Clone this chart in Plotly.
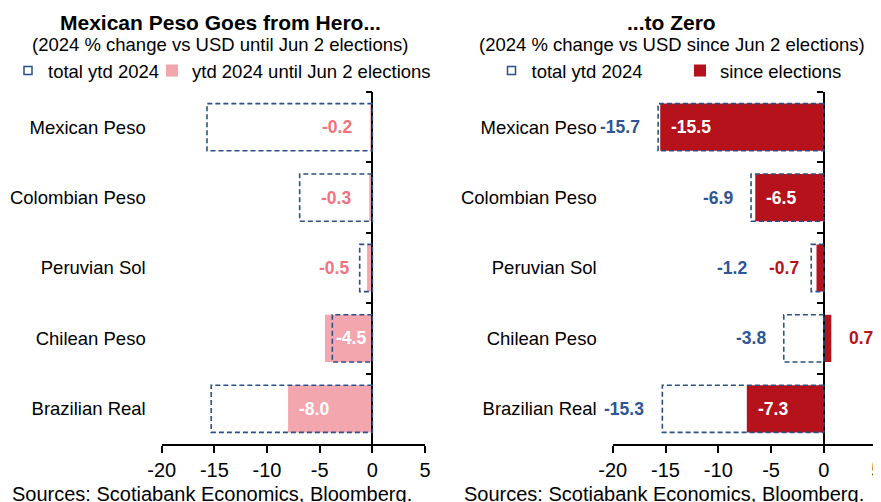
import plotly.graph_objects as go

# Data
currencies = ["Mexican Peso", "Colombian Peso", "Peruvian Sol", "Chilean Peso", "Brazilian Real"]
total_ytd = [-15.7, -6.9, -1.2, -3.8, -15.3]
ytd_until_jun2 = [-0.2, -0.3, -0.5, -4.5, -8.0]
since_elections = [-15.5, -6.5, -0.7, 0.7, -7.3]
x_ticks = [-20, -15, -10, -5, 0, 5]

BLUE = "#2B5087"
BLUE_TXT = "#2E5596"
PINK = "#F4A6AE"
PINK_TXT = "#F2727F"
RED = "#B5121B"
FONT = "Liberation Sans, Arial, sans-serif"

W, H = 881, 502
OFF = 8  # page body margin shifts the figure by this much


def px(x):
    return (x - OFF) / W


def py(y):
    return 1 - (y - OFF) / H


dom_left = [px(161.7), px(425.0)]
dom_right = [px(612.7), px(876.7)]
dom_y = [py(444), py(92)]
x_range = [-20, 5]
bar_w = 0.67
n = len(currencies)


def zero_pos(dom):
    frac = (0 - x_range[0]) / (x_range[1] - x_range[0])
    return dom[0] + frac * (dom[1] - dom[0])


fig = go.Figure()

# filled bars
fig.add_trace(go.Bar(y=currencies, x=ytd_until_jun2, orientation="h", width=bar_w,
                     marker=dict(color=PINK, line=dict(width=0)),
                     name="ytd 2024 until Jun 2 elections", xaxis="x", yaxis="y",
                     legend="legend2", hoverinfo="x+y"))
fig.add_trace(go.Bar(y=currencies, x=since_elections, orientation="h", width=bar_w,
                     marker=dict(color=RED, line=dict(width=0)),
                     name="since elections", xaxis="x2", yaxis="y2",
                     legend="legend4", hoverinfo="x+y"))

# legend-only entries for the dashed outline
for ax, lg in [("", "legend"), ("2", "legend3")]:
    fig.add_trace(go.Scatter(x=[None], y=[None], mode="markers", name="total ytd 2024",
                             marker=dict(symbol="square-open", size=8, color=BLUE,
                                         line=dict(width=1.5, color=BLUE)),
                             xaxis="x" + ax, yaxis="y" + ax, legend=lg))

# invisible traces to carry the zero-line axes
for xa, ya in [("x", "y3"), ("x2", "y4")]:
    fig.add_trace(go.Scatter(x=total_ytd, y=currencies, mode="markers",
                             marker=dict(opacity=0), showlegend=False,
                             hoverinfo="skip", xaxis=xa, yaxis=ya))

shapes = []
annotations = []
for xr, yr in [("x", "y"), ("x2", "y2")]:
    for i, v in enumerate(total_ytd):
        shapes.append(dict(type="rect", xref=xr, yref=yr, x0=0, x1=v,
                           y0=i - bar_w / 2, y1=i + bar_w / 2, layer="above",
                           line=dict(color=BLUE, width=1.6, dash="5px,3px"),
                           fillcolor="rgba(0,0,0,0)"))


def bar_label(xr, yr, i, v, out_color):
    inside = abs(v) >= 3
    if inside:
        return dict(xref=xr, yref=yr, x=v, y=i, text=f"{v:.1f}", showarrow=False,
                    xanchor="left" if v < 0 else "right", xshift=9 if v < 0 else -9,
                    font=dict(family=FONT, size=17.5, color="white", weight="bold"))
    return dict(xref=xr, yref=yr, x=v, y=i, text=f"{v:.1f}", showarrow=False,
                xanchor="right" if v < 0 else "left", xshift=-16 if v < 0 else 16,
                font=dict(family=FONT, size=17.5, color=out_color, weight="bold"))


for i, v in enumerate(ytd_until_jun2):
    annotations.append(bar_label("x", "y", i, v, PINK_TXT))
for i, v in enumerate(since_elections):
    annotations.append(bar_label("x2", "y2", i, v, RED))
    red_out_left = abs(v) < 3 and v < 0
    annotations.append(dict(xref="x2", yref="y2", x=total_ytd[i], y=i,
                            text=f"{total_ytd[i]:.1f}", showarrow=False,
                            xanchor="right", xshift=-62 if red_out_left else -16,
                            font=dict(family=FONT, size=17.5, color=BLUE_TXT, weight="bold")))

# titles and sources
for cx, title, sub in [(220, "Mexican Peso Goes from Hero...",
                        "(2024 % change vs USD until Jun 2 elections)"),
                       (671.7, "...to Zero",
                        "(2024 % change vs USD since Jun 2 elections)")]:
    annotations.append(dict(xref="paper", yref="paper", x=px(cx), y=py(23),
                            text=f"<b>{title}</b>", showarrow=False,
                            xanchor="center", yanchor="middle",
                            font=dict(family=FONT, size=21, color="black")))
    annotations.append(dict(xref="paper", yref="paper", x=px(cx), y=py(44),
                            text=sub, showarrow=False, xanchor="center", yanchor="middle",
                            font=dict(family=FONT, size=18.5, color="black")))
for sx in [10, 462]:
    annotations.append(dict(xref="paper", yref="paper", x=px(sx), y=py(494),
                            text="Sources: Scotiabank Economics, Bloomberg.",
                            showarrow=False, xanchor="left", yanchor="middle",
                            font=dict(family=FONT, size=20, color="black")))

xaxis_common = dict(range=x_range, tickvals=x_ticks, ticktext=[str(t) for t in x_ticks],
                    ticks="outside", ticklen=7, tickwidth=1.5, tickcolor="black",
                    showline=True, linecolor="black", linewidth=1.5,
                    showgrid=False, zeroline=False, automargin=False,
                    tickfont=dict(family=FONT, size=20, color="black"))
yaxis_common = dict(type="category", categoryorder="array", categoryarray=currencies,
                    range=[n - 0.5, -0.5], showgrid=False, zeroline=False,
                    showline=False, ticks="", domain=dom_y, ticklabelstandoff=15,
                    automargin=False,
                    tickfont=dict(family=FONT, size=18.5, color="black"))
zero_axis = dict(type="category", categoryorder="array", categoryarray=currencies,
                 range=[n - 0.5, -0.5], showgrid=False, zeroline=False,
                 showline=True, linecolor="black", linewidth=1.5,
                 ticks="outside", tickson="boundaries", ticklen=6, tickwidth=1.5,
                 tickcolor="black", showticklabels=False, anchor="free",
                 automargin=False)

legend_common = dict(orientation="h", yanchor="top", y=py(52), xanchor="left",
                     bgcolor="rgba(0,0,0,0)", borderwidth=0,
                     font=dict(family=FONT, size=18.5, color="black"),
                     itemclick=False, itemdoubleclick=False)

fig.update_layout(
    width=W, height=H,
    margin=dict(l=0, r=0, t=0, b=0),
    paper_bgcolor="white", plot_bgcolor="white",
    barmode="overlay",
    showlegend=True,
    xaxis=dict(domain=dom_left, anchor="y", **xaxis_common),
    xaxis2=dict(domain=dom_right, anchor="y2", **xaxis_common),
    yaxis=dict(anchor="x", **yaxis_common),
    yaxis2=dict(anchor="x2", **yaxis_common),
    yaxis3=dict(overlaying="y", position=zero_pos(dom_left), **zero_axis),
    yaxis4=dict(overlaying="y2", position=zero_pos(dom_right), **zero_axis),
    legend=dict(x=max(px(4.5), 0), **legend_common),
    legend2=dict(x=px(152), **legend_common),
    legend3=dict(x=px(491.5), **legend_common),
    legend4=dict(x=px(680), **legend_common),
    shapes=shapes,
    annotations=annotations,
)

fig.write_html("out.html")
